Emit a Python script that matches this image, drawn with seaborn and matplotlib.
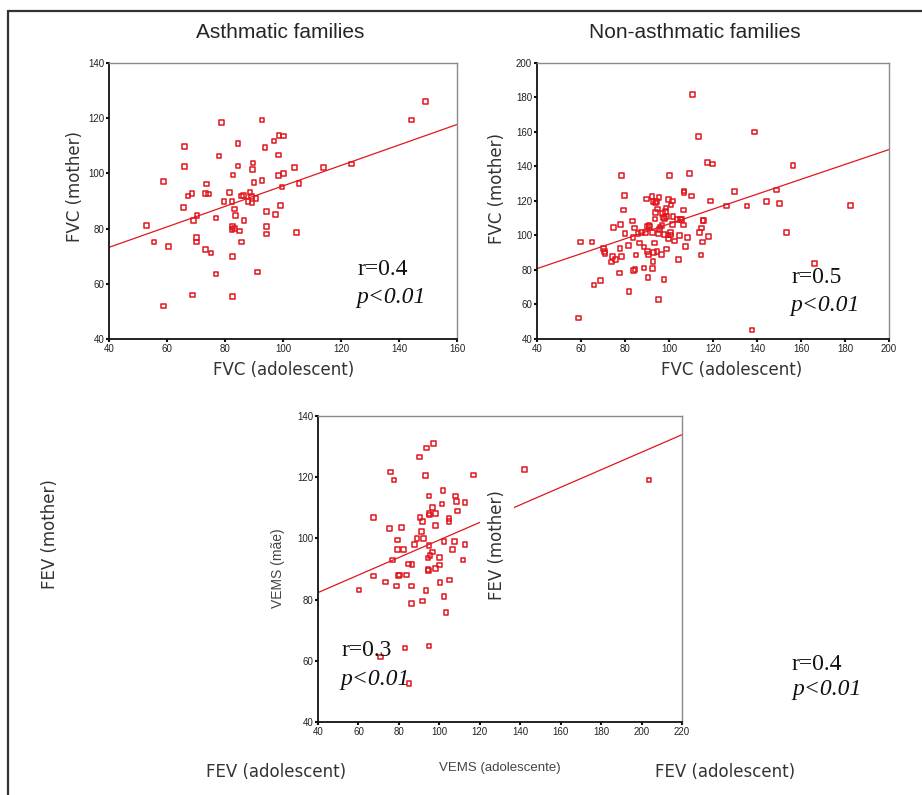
import matplotlib
matplotlib.use("Agg")
import matplotlib.pyplot as plt
from matplotlib.lines import Line2D
import seaborn as sns

# asthmatic families: FVC adolescent vs FVC mother
asth_x = [53.0, 55.5, 58.9, 58.9, 60.5, 65.7, 66.1, 66.1, 67.2, 68.6, 68.9, 69.2, 70.1, 70.1,
          70.3, 73.2, 73.2, 73.6, 74.3, 75.2, 76.9, 76.9, 77.9, 78.9, 79.7, 81.6, 82.4, 82.4,
          82.5, 82.5, 82.6, 82.8, 83.2, 83.3, 83.6, 84.5, 84.5, 85.1, 85.6, 85.7, 86.3, 86.6,
          88.0, 88.6, 89.2, 89.3, 89.4, 89.7, 90.0, 90.7, 91.3, 92.8, 92.8, 93.8, 94.4, 94.4,
          94.4, 96.9, 97.5, 98.4, 98.5, 98.6, 99.1, 99.7, 100.2, 100.2, 104.0, 104.7, 105.5,
          114.0, 123.6, 144.4, 149.1]
asth_y = [81.2, 75.1, 97.1, 51.9, 73.4, 87.7, 109.7, 102.5, 91.8, 92.8, 55.9, 82.9, 76.8, 75.1,
          84.8, 72.4, 92.8, 96.2, 92.5, 71.1, 83.8, 63.5, 106.3, 118.5, 89.8, 93.1, 89.8, 79.6,
          69.9, 55.5, 80.7, 99.4, 87.1, 80.1, 84.8, 110.9, 102.7, 79.1, 75.1, 91.8, 91.9, 82.9,
          89.8, 93.1, 91.6, 89.2, 101.5, 103.7, 96.8, 90.8, 64.2, 97.4, 119.4, 109.4, 86.1, 80.8,
          78.1, 111.7, 85.0, 106.7, 99.3, 113.7, 88.4, 95.1, 113.5, 100.0, 102.1, 78.5, 96.4,
          102.1, 103.4, 119.4, 126.1]
asth_fit_x = [40, 160]
asth_fit_y = [73.2, 117.7]

# non-asthmatic families
non_x = [58.9, 59.7, 65.1, 65.9, 68.9, 70.3, 70.7, 71.0, 73.8, 74.4, 74.7, 75.6, 77.5, 77.7,
         78.0, 78.3, 78.4, 79.2, 79.7, 80.0, 81.6, 81.8, 83.3, 83.7, 83.9, 84.2, 84.5, 85.0,
         86.0, 86.5, 87.5, 88.7, 88.7, 89.2, 89.8, 90.0, 90.3, 90.4, 90.7, 90.9, 91.2, 92.2,
         92.4, 92.5, 92.7, 92.8, 93.0, 93.3, 93.6, 93.9, 94.0, 94.2, 94.5, 94.8, 95.1, 95.3,
         95.4, 95.7, 96.0, 96.5, 96.8, 97.1, 97.4, 97.7, 98.0, 98.1, 98.4, 98.7, 98.9, 99.0,
         99.5, 99.8, 99.9, 100.2, 100.6, 100.7, 101.0, 101.5, 101.6, 101.9, 102.4, 104.0,
         104.3, 104.8, 105.1, 105.7, 106.5, 106.6, 106.8, 106.9, 107.4, 108.3, 109.3, 110.2,
         110.7, 113.3, 113.9, 114.5, 114.8, 115.2, 115.4, 115.7, 117.4, 118.1, 119.0, 119.9,
         126.1, 129.9, 135.5, 139.0, 144.3, 148.8, 150.1, 153.4, 156.4, 166.2, 137.8, 182.6]
non_y = [52.2, 96.2, 96.2, 71.3, 74.0, 92.4, 90.8, 89.7, 84.6, 87.9, 104.7, 86.0, 78.3, 92.4,
         106.3, 87.9, 134.9, 114.8, 123.3, 101.1, 94.1, 67.4, 108.4, 98.9, 79.8, 104.3, 80.2,
         88.7, 101.3, 95.7, 101.8, 81.2, 93.3, 101.8, 121.2, 105.1, 90.8, 75.7, 89.1, 105.7,
         105.3, 122.7, 101.8, 80.8, 119.8, 85.0, 90.2, 95.7, 109.6, 113.4, 118.8, 119.8, 90.8,
         115.4, 62.8, 101.3, 122.1, 103.4, 104.9, 88.9, 105.7, 112.7, 110.5, 74.4, 100.5,
         109.8, 114.0, 115.9, 111.1, 92.2, 100.3, 120.8, 98.0, 134.7, 101.8, 100.3, 117.7,
         120.0, 106.5, 111.1, 96.8, 109.2, 86.0, 99.9, 109.6, 109.2, 114.8, 106.1, 125.0,
         125.8, 93.5, 98.9, 136.0, 122.9, 181.8, 157.3, 101.8, 88.7, 104.3, 96.2, 108.8, 108.8,
         142.4, 99.3, 120.0, 141.4, 117.1, 125.4, 117.1, 160.0, 119.6, 126.4, 118.6, 101.8,
         140.7, 83.9, 45.2, 117.5]
non_fit_x = [40, 200]
non_fit_y = [80.8, 149.8]

# VEMS panel
fev_x = [60.3, 67.4, 67.4, 73.3, 75.3, 75.8, 76.8, 77.6, 78.9, 79.4, 79.2, 79.9, 80.4, 81.4,
         82.2, 83.0, 83.7, 84.7, 86.5, 86.3, 86.2, 87.6, 89.0, 90.3, 90.4, 91.1, 91.6, 91.6,
         92.1, 93.1, 93.4, 93.6, 94.4, 94.4, 94.7, 94.9, 94.9, 94.9, 95.2, 95.4, 96.5, 96.7,
         97.0, 98.0, 98.2, 98.2, 100.0, 100.0, 100.3, 101.3, 101.8, 102.3, 102.3, 103.3, 104.8,
         104.8, 105.1, 106.4, 107.4, 107.9, 108.6, 108.9, 111.7, 112.7, 112.7, 117.0, 142.0,
         203.7, 71.0, 94.9, 85.0]
fev_y = [83.1, 106.9, 87.7, 85.7, 103.2, 121.7, 92.9, 119.1, 84.4, 99.5, 96.4, 87.8, 88.0, 103.5,
         96.4, 64.2, 88.1, 91.7, 91.4, 84.4, 78.7, 98.0, 100.0, 126.6, 106.9, 102.2, 105.6, 79.5,
         100.0, 120.5, 83.0, 129.6, 93.6, 89.9, 89.6, 97.6, 113.9, 108.1, 107.6, 94.4, 95.6,
         110.2, 131.0, 108.1, 90.2, 104.2, 93.8, 91.3, 85.5, 111.2, 115.7, 81.1, 99.0, 75.8,
         106.5, 105.5, 86.4, 96.3, 99.0, 113.9, 112.1, 108.9, 92.9, 111.8, 98.0, 120.7, 122.5,
         119.1, 61.2, 64.9, 52.6]
fev_fit_x = [40, 220]
fev_fit_y = [82.3, 133.9]

RED = "#e0161e"

sns.set_theme(style="white")
plt.rcParams["font.family"] = ["DejaVu Sans"]

fig = plt.figure(figsize=(9.22, 7.95), dpi=100)
fig.patch.set_facecolor("white")

ax1 = fig.add_axes([0.1182, 0.5736, 0.3774, 0.3472])
ax2 = fig.add_axes([0.5824, 0.5736, 0.3818, 0.3472])
ax3 = fig.add_axes([0.3449, 0.0918, 0.3948, 0.3849])


def draw(ax, xs, ys, fx, fy, xlim, ylim, xticks, yticks):
    sns.lineplot(x=fx, y=fy, ax=ax, color=RED, linewidth=0.9, zorder=2)
    sns.scatterplot(x=xs, y=ys, ax=ax, marker="s", s=11, facecolors="none",
                    edgecolor=RED, linewidth=1.1, zorder=3)
    ax.set_xlim(*xlim)
    ax.set_ylim(*ylim)
    ax.set_xticks(xticks)
    ax.set_yticks(yticks)
    ax.set_xlabel("")
    ax.set_ylabel("")
    for s in ["left", "bottom"]:
        ax.spines[s].set_color("#111111")
        ax.spines[s].set_linewidth(1.3)
    for s in ["top", "right"]:
        ax.spines[s].set_color("#8a8a8a")
        ax.spines[s].set_linewidth(1.0)
    ax.tick_params(axis="both", direction="out", length=2, width=1.5, color="#111111",
                   labelsize=7, pad=1.5, left=True, bottom=True)
    for lab in ax.get_xticklabels() + ax.get_yticklabels():
        lab.set_fontfamily("Liberation Sans")
        lab.set_color("#222222")


draw(ax1, asth_x, asth_y, asth_fit_x, asth_fit_y, (40, 160), (40, 140),
     range(40, 161, 20), range(40, 141, 20))
draw(ax2, non_x, non_y, non_fit_x, non_fit_y, (40, 200), (40, 200),
     range(40, 201, 20), range(40, 201, 20))
draw(ax3, fev_x, fev_y, fev_fit_x, fev_fit_y, (40, 220), (40, 140),
     range(40, 221, 20), range(40, 141, 20))

W, H = 922.0, 795.0


def ftext(px, py, s, **kw):
    fig.text(px / W, 1 - py / H, s, **kw)


lab = dict(fontsize=12, color="#333333", ha="center", va="center")
serif = dict(fontsize=17, family="Liberation Serif", color="#111111", ha="left", va="center")

ftext(280, 33, "Asthmatic families", fontsize=15, family="Liberation Sans", ha="center", va="center")
ftext(695, 33, "Non-asthmatic families", fontsize=15, family="Liberation Sans", ha="center", va="center")

ftext(75, 186, "FVC (mother)", rotation=90, **lab)
ftext(284, 370, "FVC (adolescent)", **lab)
ftext(497, 189, "FVC (mother)", rotation=90, **lab)
ftext(732, 370, "FVC (adolescent)", **lab)

ftext(357, 270, "r=0.4", **serif)
ftext(356, 298, "p<0.01", style="italic", **serif)
ftext(792, 278, "r=0.5", **serif)
ftext(790, 305, "p<0.01", style="italic", **serif)
ftext(341, 650, "r=0.3", **serif)
ftext(340, 679, "p<0.01", style="italic", **serif)
ftext(792, 665, "r=0.4", **serif)
ftext(792, 689, "p<0.01", style="italic", **serif)

ftext(50, 534, "FEV (mother)", rotation=90, **lab)
ftext(276, 772, "FEV (adolescent)", **lab)
ftext(725, 772, "FEV (adolescent)", **lab)
ftext(278, 568, "VEMS (mãe)", rotation=90, fontsize=10, family="Liberation Sans",
      color="#444444", ha="center", va="center")
ftext(500, 768, "VEMS (adolescente)", fontsize=9.5, family="Liberation Sans",
      color="#444444", ha="center", va="center")
fig.text(497 / W, 1 - 545 / H, "FEV (mother)", rotation=90, zorder=5,
         bbox=dict(facecolor="white", edgecolor="none", pad=6), **lab)

# page frame (top and left edges)
fig.add_artist(Line2D([8 / W, 1.0], [1 - 11 / H, 1 - 11 / H], color="#333333", linewidth=1.6))
fig.add_artist(Line2D([8 / W, 8 / W], [0.0, 1 - 11 / H], color="#333333", linewidth=1.6))

fig.savefig("out.png", dpi=100, facecolor="white")
